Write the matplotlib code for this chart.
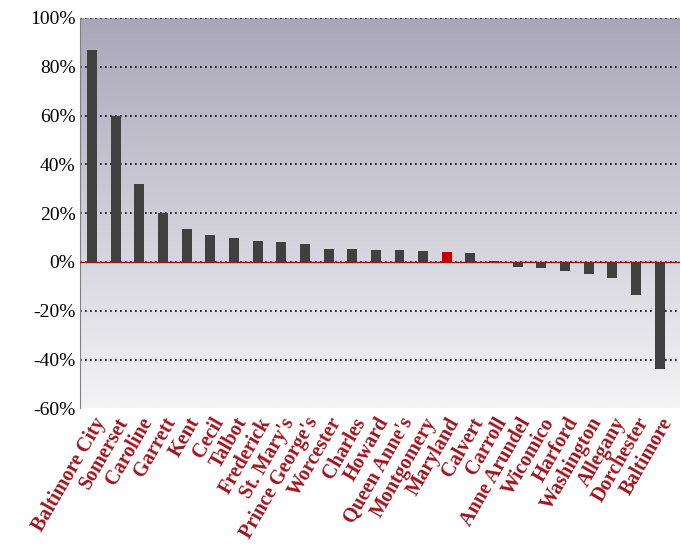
import matplotlib
matplotlib.use("Agg")
import matplotlib.pyplot as plt
import numpy as np
from matplotlib.ticker import FuncFormatter
from matplotlib.colors import LinearSegmentedColormap

counties = ["Baltimore City","Somerset","Caroline","Garrett","Kent","Cecil","Talbot","Frederick",
            "St. Mary's","Prince George's","Worcester","Charles","Howard","Queen Anne's","Montgomery",
            "Maryland","Calvert","Carroll","Anne Arundel","Wicomico","Harford","Washington","Allegany",
            "Dorchester","Baltimore"]
values = [87,60,32,20,13.5,11,10,8.5,8,7.5,5.5,5.5,5,5,4.5,4,3.5,0.3,-2,-2.5,-3.5,-5,-6.5,-13.5,-44]

plt.rcParams['font.family'] = ['Liberation Serif']
fig = plt.figure(figsize=(6.81,5.58), dpi=100)
ax = fig.add_axes([0.118, 0.268, 0.88, 0.70])
x = np.arange(len(counties))
colors = ['#c00000' if c == "Maryland" else '#404040' for c in counties]
xl = (-0.5, len(counties)-0.15)
grad = np.linspace(0,1,256).reshape(-1,1)
cmap = LinearSegmentedColormap.from_list('g', ['#a9a6b8', '#f4f4f6'])
ax.imshow(grad, aspect='auto', cmap=cmap, origin='upper', extent=[xl[0], xl[1], -60, 100], zorder=0)
ax.set_xlim(*xl)
ax.set_ylim(-60, 100)
for y in range(-40, 101, 20):
    ax.axhline(y, color='black', linestyle=(0,(1,2)), linewidth=1.2, zorder=1)
ax.bar(x, values, width=0.42, color=colors, zorder=2)
ax.axhline(0, color='#8b1a1a', linewidth=1, zorder=3)
ax.yaxis.set_major_formatter(FuncFormatter(lambda v, p: f"{v:.0f}%"))
ax.set_yticks(range(-60, 101, 20))
ax.tick_params(axis='y', labelsize=14, length=0)
ax.set_xticks(x)
ax.set_xticklabels(counties, rotation=60, ha='right', rotation_mode='anchor',
                   fontsize=14.5, fontweight='bold', color='#a0141e')
ax.tick_params(axis='x', length=0, pad=4)
for s in ax.spines.values():
    s.set_visible(False)
ax.spines['left'].set_visible(True)
ax.spines['left'].set_color('#808080')
fig.savefig("out.png", dpi=100)
